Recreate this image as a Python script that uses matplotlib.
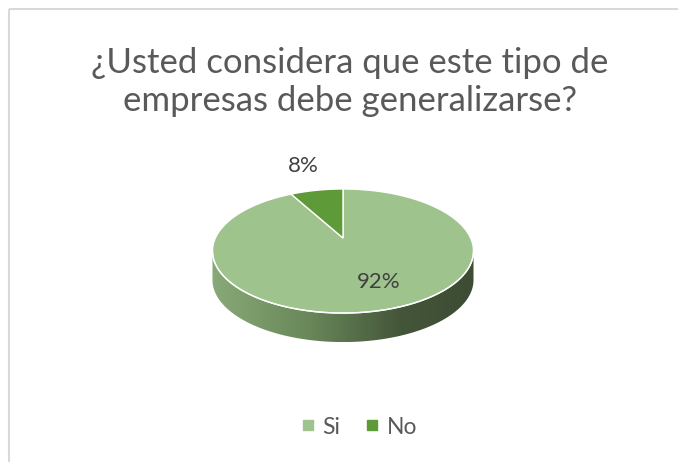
import numpy as np
import matplotlib
matplotlib.use("Agg")
import matplotlib.pyplot as plt
from matplotlib.patches import Polygon, Rectangle
from matplotlib.lines import Line2D
from matplotlib.colors import LinearSegmentedColormap

# ---- data ----
title = "¿Usted considera que este tipo de\nempresas debe generalizarse?"
categories = ["Si", "No"]
values = [92, 8]
pct_labels = ["92%", "8%"]
colors = ["#9fc38c", "#5f9a39"]

plt.rcParams['font.family'] = ['Lato', 'DejaVu Sans']
TXT = "#595959"

fig = plt.figure(figsize=(6.78, 4.62), dpi=100)
ax = fig.add_axes([0, 0, 1, 1])
ax.set_xlim(0, 678)
ax.set_ylim(462, 0)
ax.axis('off')

# chart border
ax.add_patch(Rectangle((9, 9), 700, 500, fill=False, ec="#d9d9d9", lw=1.5))

ax.text(350, 82, title, ha='center', va='center', fontsize=25, color=TXT,
        linespacing=1.25)

# ---- 3D pie geometry ----
cx, cy0 = 343, 238
a, b, k = 127.6, 59.3, 0.21
depth = 29

def proj(t, dy=0.0):
    c, s = np.cos(t), np.sin(t)
    w = 1 + k * s
    return cx + a * c / w, cy0 - b * s / w + dy

# side (silhouette front band)
t1 = np.pi + np.arcsin(k)
t2 = 2 * np.pi - np.arcsin(k)
ts = np.linspace(t1, t2, 200)
xt, yt = proj(ts)
xb, yb = proj(ts[::-1], depth)
side_pts = np.column_stack([np.concatenate([xt, xb]), np.concatenate([yt, yb])])
side = Polygon(side_pts, closed=True, fc='none', ec='none')
ax.add_patch(side)
cmap = LinearSegmentedColormap.from_list(
    "side", [(0, "#8aa978"), (0.35, "#6b8a5b"), (0.72, "#44563a"), (1, "#3d4c33")])
grad = np.linspace(0, 1, 256)[None, :]
im = ax.imshow(grad, cmap=cmap, extent=(side_pts[:, 0].min(), side_pts[:, 0].max(),
                                         side_pts[:, 1].max(), side_pts[:, 1].min()),
               aspect='auto', zorder=1)
im.set_clip_path(side)
ax.set_xlim(0, 678)
ax.set_ylim(462, 0)

# top face wedges: Excel-style, start at 12 o'clock, clockwise
total = float(sum(values))
start = np.pi / 2
for v, col in zip(values, colors):
    sweep = 2 * np.pi * v / total
    tt = np.linspace(start, start - sweep, max(int(400 * v / total), 10))
    px, py = proj(tt)
    pts = np.column_stack([np.concatenate([[cx], px]), np.concatenate([[cy0], py])])
    ax.add_patch(Polygon(pts, closed=True, fc=col, ec='white', lw=1.0, zorder=2))
    start -= sweep

# white rim line on front
ax.plot(xt, yt, color='white', lw=1.0, zorder=3)

# labels
ax.text(379, 282, pct_labels[0], ha='center', va='center', fontsize=16, color="#404040", zorder=4)
ax.text(303, 166, pct_labels[1], ha='center', va='center', fontsize=16, color="#404040", zorder=4)

# legend
handles = [Line2D([], [], marker='s', ls='none', color=c, markersize=6.5) for c in colors]
leg = ax.legend(handles, categories, ncol=2, frameon=False, loc='center',
                bbox_to_anchor=(357 / 678, 1 - 427 / 462), fontsize=16.5,
                handletextpad=0.15, columnspacing=0.9, handlelength=1.0, labelcolor=TXT)

fig.savefig("out.png", dpi=100)
